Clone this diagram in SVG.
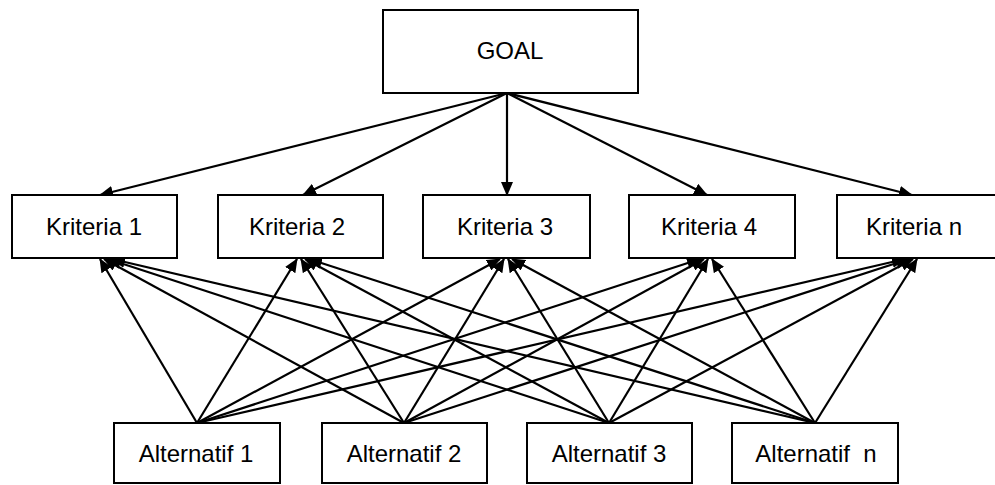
<svg xmlns="http://www.w3.org/2000/svg" width="995" height="485" viewBox="0 0 995 485">
<defs>
<style>
.box{fill:#fff;stroke:#000;stroke-width:2}
.lbl{font-family:"Liberation Sans",Arial,sans-serif;font-size:24px;fill:#000;text-anchor:middle}
.c line{stroke:#000;stroke-width:2.2;marker-end:url(#ah)}
</style>
<marker id="ah" markerUnits="userSpaceOnUse" markerWidth="14" markerHeight="12" refX="13" refY="6" orient="auto">
<path d="M0,0 L14,6 L0,12 z" fill="#000"/>
</marker>
</defs>
<rect width="995" height="485" fill="#fff"/>
<g id="connectors" class="c">
<line x1="507" y1="93" x2="100" y2="195"/>
<line x1="507" y1="93" x2="303" y2="195"/>
<line x1="507" y1="93" x2="507" y2="195"/>
<line x1="507" y1="93" x2="707" y2="195"/>
<line x1="507" y1="93" x2="912" y2="195"/>
<line x1="197" y1="423" x2="100" y2="259"/>
<line x1="197" y1="423" x2="297" y2="259"/>
<line x1="197" y1="423" x2="500" y2="259"/>
<line x1="197" y1="423" x2="700" y2="259"/>
<line x1="197" y1="423" x2="905" y2="259"/>
<line x1="404" y1="423" x2="104" y2="259"/>
<line x1="404" y1="423" x2="301" y2="259"/>
<line x1="404" y1="423" x2="504" y2="259"/>
<line x1="404" y1="423" x2="704" y2="259"/>
<line x1="404" y1="423" x2="909" y2="259"/>
<line x1="609" y1="423" x2="108" y2="259"/>
<line x1="609" y1="423" x2="305" y2="259"/>
<line x1="609" y1="423" x2="508" y2="259"/>
<line x1="609" y1="423" x2="708" y2="259"/>
<line x1="609" y1="423" x2="913" y2="259"/>
<line x1="815" y1="423" x2="112" y2="259"/>
<line x1="815" y1="423" x2="309" y2="259"/>
<line x1="815" y1="423" x2="512" y2="259"/>
<line x1="815" y1="423" x2="712" y2="259"/>
<line x1="815" y1="423" x2="917" y2="259"/>
</g>
<g id="goal"><rect class="box" x="383" y="10" width="255" height="83"/><text class="lbl" x="510" y="59">GOAL</text></g>
<g id="k1"><rect class="box" x="12" y="195" width="165" height="63"/><text class="lbl" x="94" y="235">Kriteria 1</text></g>
<g id="k2"><rect class="box" x="218" y="195" width="165" height="63"/><text class="lbl" x="297" y="235">Kriteria 2</text></g>
<g id="k3"><rect class="box" x="423" y="195" width="167" height="63"/><text class="lbl" x="505" y="235">Kriteria 3</text></g>
<g id="k4"><rect class="box" x="629" y="195" width="166" height="63"/><text class="lbl" x="709" y="235">Kriteria 4</text></g>
<g id="kn"><rect class="box" x="837" y="195" width="166" height="63"/><text class="lbl" x="914" y="235">Kriteria n</text></g>
<g id="a1"><rect class="box" x="114" y="423" width="166" height="60"/><text class="lbl" x="196" y="462">Alternatif 1</text></g>
<g id="a2"><rect class="box" x="322" y="423" width="165" height="60"/><text class="lbl" x="404" y="462">Alternatif 2</text></g>
<g id="a3"><rect class="box" x="527" y="423" width="165" height="60"/><text class="lbl" x="609" y="462">Alternatif 3</text></g>
<g id="an"><rect class="box" x="732" y="423" width="166" height="60"/><text class="lbl" x="816" y="462" xml:space="preserve" style="white-space:pre">Alternatif  n</text></g>
</svg>
